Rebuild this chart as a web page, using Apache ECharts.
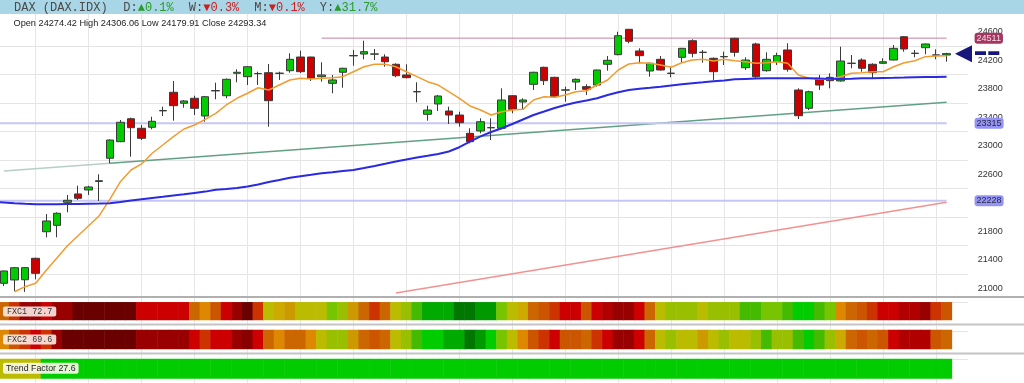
<!DOCTYPE html>
<html><head><meta charset="utf-8">
<script src="https://cdn.jsdelivr.net/npm/echarts@6/dist/echarts.min.js"></script>
<style>html,body{margin:0;padding:0;background:#fff}#c{width:1024px;height:383px}</style>
</head><body><div id="c"></div>
<script>
// ---------- DATA ----------
const open = [21070,21117,21120,21421,21794,21884,22207,22324,22380,22500,
22825,23058,23380,23246,23260,23490,23751,23597,23667,23418,
23770,23703,24018,23970,24012,24026,24016,24054,24246,24246,
23970,23877,24032,24262,24288,24286,24246,24144,23994,23757,
23442,23587,23488,23432,23175,23208,23252,23246,23703,23615,
23863,24102,23961,23781,23895,23830,23853,24144,24279,24635,
24331,24050,24214,24016,24242,24475,24310,24228,24249,24509,
24096,24429,24054,24180,24345,23783,23526,23947,23961,23910,
24156,24204,24144,24158,24204,24531,24296,24377,24272,24274.42];
const high = [21250,21300,21295,21430,22043,22067,22310,22440,22440,22600,
23090,23362,23395,23292,23408,23549,23910,23643,23703,23700,
23886,23945,24074,24120,24040,24148,24040,24298,24335,24250,
24172,23994,24095,24345,24475,24359,24284,24158,24144,23891,
23563,23713,23549,23479,23246,23386,23386,23807,23710,23667,
24040,24110,23970,23830,23945,23863,24070,24260,24601,24640,
24368,24170,24260,24110,24375,24495,24345,24240,24321,24515,
24242,24447,24312,24307,24439,23807,23773,23994,24018,24391,
24274,24228,24158,24228,24415,24540,24345,24435,24354,24306.06];
const low = [21032,20960,20950,21126,21716,21716,22067,22239,22310,22225,
22754,23050,22847,23081,23232,23418,23352,23535,23432,23338,
23653,23667,23891,23853,23853,23268,23924,24026,24020,23910,
23900,23737,23815,24124,24214,24204,24110,23962,23947,23611,
23352,23488,23306,23268,23035,23175,23081,23232,23456,23512,
23783,23853,23680,23619,23783,23713,23830,24054,24270,24439,
24158,23970,24054,23961,24166,24242,24166,23924,24134,24251,
24064,23947,24040,24134,24040,23376,23502,23783,23807,23900,
24088,24040,23947,24148,24200,24321,24242,24284,24214,24179.91];
const close = [21243,21289,21290,21210,21945,22053,22235,22263,22422,22510,
23081,23330,23254,23105,23344,23496,23563,23629,23526,23689,
23776,23933,24032,24110,24015,23633,24020,24214,24040,23947,
23994,23924,24088,24268,24321,24290,24180,23984,23956,23761,
23502,23699,23432,23324,23058,23338,23256,23643,23512,23643,
24032,23914,23689,23785,23933,23793,24064,24200,24545,24467,
24265,24158,24064,24020,24368,24298,24314,24040,24253,24312,
24204,23970,24214,24265,24074,23422,23759,23853,23914,24190,
24160,24088,24026,24180,24368,24359,24300,24429,24276,24293.34];
// fast moving average (orange), one value per candle
const maFast = [null,20952,21023,21070,21253,21425,21598,21738,21879,22019,
22249,22496,22660,22745,22895,23011,23128,23236,23292,23372,
23456,23573,23667,23737,23815,23783,23853,23924,23947,23938,
23947,23956,23970,24040,24110,24144,24144,24110,24040,23970,
23900,23853,23759,23667,23559,23502,23432,23479,23502,23512,
23643,23689,23681,23713,23759,23773,23853,23924,24064,24148,
24166,24158,24134,24102,24166,24204,24214,24190,24214,24194,
24180,24158,24166,24180,24158,23994,23947,23933,23933,23970,
24018,24026,24040,24040,24110,24166,24194,24251,24260,24265];
// slow moving average (blue); maSlowPrev = value just before the first candle
const maSlowPrev = 22212;
const maSlow = [22204,22194,22186,22179,22179,22180,22182,22183,22186,22189,
22193,22211,22231,22249,22267,22284,22302,22319,22338,22357,
22382,22394,22408,22429,22457,22492,22520,22552,22573,22593,
22615,22630,22646,22660,22688,22717,22747,22780,22808,22836,
22860,22885,22920,22980,23058,23132,23194,23246,23306,23369,
23432,23481,23531,23573,23608,23636,23667,23713,23751,23783,
23800,23814,23829,23846,23863,23877,23891,23907,23918,23933,
23939,23943,23947,23947,23947,23947,23947,23943,23940,23938,
23940,23947,23949,23952,23954,23957,23961,23964,23967,23970];
// horizontal levels: value and first candle (-1 = chart edge)
const levelValues = [24511, 23315, 22228];
const levelStarts = [30, -1, -1];
// trend lines: [candle, value] anchor points
const greenTrend = [[10, 22754], [89, 23611]];
const greenTrendExt = [[0, 22645], [10, 22754]];
const redTrend = [[37, 20934], [89, 22208]];
// y-axis tick labels
const yTicks = [21000, 21400, 21800, 22200, 22600, 23000, 23400, 23800, 24200, 24600];
// indicator strips: level per candle (0 = strongest bearish ... 18 = strongest bullish)
const fxc1 = [7,5,2,2,4,2,2,0,0,0,
0,0,0,4,4,4,4,4,7,8,
6,4,2,0,5,11,10,9,11,11,
11,13,12,9,7,5,7,11,12,14,
16,16,16,18,18,17,17,13,11,10,
7,6,5,4,4,6,4,3,2,2,
4,7,11,12,12,12,11,12,12,12,
14,14,13,13,14,15,15,14,13,8,
7,6,5,4,4,3,3,2,5,6];
const fxc2 = [8,6,5,4,5,2,0,0,0,0,
0,0,0,2,2,2,2,2,4,5,
4,4,2,1,4,7,8,7,7,8,
11,12,12,9,7,6,7,11,12,14,
15,15,16,16,18,17,15,13,11,8,
6,5,4,6,6,7,5,4,2,2,
4,7,11,12,11,11,9,11,12,11,
11,12,14,12,12,14,15,14,12,10,
7,6,7,6,4,3,3,3,6,7];
const trendF = [11,11,11,11,15,15,15,15,15,15,
15,15,15,15,15,15,15,15,15,15,
15,15,15,15,15,15,15,15,15,15,
15,15,15,15,15,15,15,15,15,15,
15,15,15,15,15,15,15,15,15,15,
15,15,15,15,15,15,15,15,15,15,
15,15,15,15,15,15,15,15,15,15,
15,15,15,15,15,15,15,15,15,15,
15,15,15,15,15,15,15,15,15,15];
const stripNames = ['FXC1', 'FXC2', 'Trend Factor'];
const stripValues = [72.7, 69.6, 27.6];
const symbolName = 'DAX (DAX.IDX)';
const periodNames = ['D', 'W', 'M', 'Y'];
const periodChanges = [0.1, -0.3, -0.1, 31.7];

// ---------- STYLE / LAYOUT ----------
const palette = ['#6b0000','#880000','#990000','#b00000','#cc0000','#cc3300','#cc5500','#cc6600','#dd8800',
  '#cc9900','#ccaa00','#bbbb00','#99c000','#77c400','#44bb00','#00cc00','#00aa00','#009900','#007700'];
const SP = 10.592;            // candle spacing
const X0 = 3.9;               // first candle centre
const GL = X0 - SP;           // grid left (one padding slot)
const NC = 93;                // slots: 1 pad + 90 candles + 2 pad
const GW = (NC - 1) * SP;
const cats = Array.from({length: NC}, (_, k) => 'k' + k);
const bandCats = open.map((_, i) => 'b' + i);
const pxPer = 0.07125;        // px per point
const yMin = 19600, yMax = 24800;
const gTop = 31.8 - (yMax - 24600) * pxPer;
const gH = (yMax - yMin) * pxPer;

const chart = echarts.init(document.getElementById('c'), null, {renderer: 'canvas'});
const kData = open.map((o, i) => [i + 1, o, close[i], low[i], high[i]]);
const fastData = maFast.map((v, i) => v == null ? null : [i + 1, v]).filter(Boolean);
const slowData = [[0, maSlowPrev]].concat(maSlow.map((v, i) => [i + 1, v]));

const levelStyles = [
  {line: '#c9809f', bg: '#a5365f', fg: '#f6dbe6', w: 1},
  {line: '#c6c6f6', bg: '#9494f6', fg: '#2a2a40', w: 2},
  {line: '#c6c6f6', bg: '#9494f6', fg: '#2a2a40', w: 2}
];
const levelSeries = levelValues.map((v, j) => {
  const s0 = levelStarts[j] + 1;
  const first = j === 0
    ? {value: [s0, v], symbol: 'circle', symbolSize: 7, itemStyle: {color: '#e6aac4', borderColor: '#c87098', borderWidth: 1}}
    : {value: [s0, v], symbol: 'none'};
  return {
    type: 'line', xAxisIndex: 1, yAxisIndex: 1, silent: true, animation: false, z: 3,
    showSymbol: true, symbol: 'none',
    data: [first, {value: [90, v], symbol: 'none'}],
    lineStyle: {color: levelStyles[j].line, width: levelStyles[j].w},
    endLabel: {show: true, formatter: String(v), distance: 28, fontSize: 9, fontFamily: 'Liberation Sans',
      color: levelStyles[j].fg, backgroundColor: levelStyles[j].bg, borderRadius: 3, padding: [1, 2, 0, 2], lineHeight: 10}
  };
});
const trendSeries = (pts, color, marker) => ({
  type: 'line', xAxisIndex: 1, yAxisIndex: 1, silent: true, animation: false,
  showSymbol: true, symbol: 'none',
  data: pts.map((p, i) => (marker && i === 0)
    ? {value: [p[0] + 1, p[1]], symbol: 'circle', symbolSize: 7, itemStyle: {color: '#b9d9c6', borderColor: '#9cc4ae'}}
    : {value: [p[0] + 1, p[1]], symbol: 'none'}),
  lineStyle: {color: color, width: 1.5}
});
const heat = (gi, arr) => ({
  type: 'heatmap', xAxisIndex: gi, yAxisIndex: gi, silent: true, animation: false,
  data: arr.map((lv, i) => [i, 0, lv]), itemStyle: {borderWidth: 0}
});

const option = {
  animation: false,
  backgroundColor: '#ffffff',
  grid: [
    {left: GL, width: GW, top: 14, height: 369, outerBoundsMode: 'none'},
    {left: GL, width: GW, top: gTop, height: gH, outerBoundsMode: 'none'},
    {left: X0 - SP / 2, width: 90 * SP, top: 302.3, height: 17.7, outerBoundsMode: 'none'},
    {left: X0 - SP / 2, width: 90 * SP, top: 330, height: 19, outerBoundsMode: 'none'},
    {left: X0 - SP / 2, width: 90 * SP, top: 359, height: 19.5, outerBoundsMode: 'none'}
  ],
  xAxis: [
    {type: 'category', gridIndex: 0, data: cats, boundaryGap: false,
      axisLine: {show: false}, axisTick: {show: false}, axisLabel: {show: false},
      splitLine: {show: true, interval: (idx) => idx >= 1 && (idx - 1) % 5 === 3, lineStyle: {color: '#e6e6e6', width: 1}}},
    {type: 'category', gridIndex: 1, data: cats, boundaryGap: false, show: false},
    {type: 'category', gridIndex: 2, data: bandCats, show: false},
    {type: 'category', gridIndex: 3, data: bandCats, show: false},
    {type: 'category', gridIndex: 4, data: bandCats, show: false}
  ],
  yAxis: [
    {type: 'value', gridIndex: 0, show: false},
    {type: 'value', gridIndex: 1, position: 'right', min: yMin, max: yMax, interval: 400,
      axisLine: {show: false}, axisTick: {show: false},
      splitLine: {show: true, showMinLine: false, showMaxLine: false, lineStyle: {color: '#e4e4e4'}},
      axisLabel: {show: false}},
    {type: 'category', gridIndex: 2, data: [stripNames[0]], show: false},
    {type: 'category', gridIndex: 3, data: [stripNames[1]], show: false},
    {type: 'category', gridIndex: 4, data: [stripNames[2]], show: false}
  ],
  visualMap: {
    type: 'piecewise', show: false, dimension: 2, seriesIndex: [0, 1, 2],
    pieces: palette.map((c, i) => ({value: i, color: c}))
  },
  series: [
    heat(2, fxc1), heat(3, fxc2), heat(4, trendF),
    trendSeries(greenTrendExt, '#b6cfc4', false),
    trendSeries(greenTrend, '#62a084', true),
    trendSeries(redTrend, '#f39191', false),
    ...levelSeries,
    {type: 'candlestick', xAxisIndex: 1, yAxisIndex: 1, silent: true, animation: false, z: 4,
      data: kData, encode: {x: 0, y: [1, 2, 3, 4]}, barWidth: 8,
      itemStyle: {color: '#00cc00', color0: '#cc0000', borderColor: '#3a3a3a', borderColor0: '#3a3a3a', borderWidth: 1}},
    {type: 'line', xAxisIndex: 1, yAxisIndex: 1, silent: true, data: fastData, symbol: 'none', z: 5,
      lineStyle: {color: '#f29b2f', width: 1.5}},
    {type: 'line', xAxisIndex: 1, yAxisIndex: 1, silent: true, data: slowData, symbol: 'none', z: 5,
      lineStyle: {color: '#2a2ae2', width: 2}}
  ]
};
chart.setOption(option);

// ---------- overlays placed through the price scale ----------
const toY = (v) => chart.convertToPixel({xAxisIndex: 1, yAxisIndex: 1}, [90, v])[1];
const axisRightX = chart.convertToPixel({xAxisIndex: 1, yAxisIndex: 1}, [NC - 1, yMin])[0];
const lastY = toY(close[89]);
const CW = 7.28;
const hdr = [{t: symbolName, c: 0, col: '#4a4a4a'}];
let pos = symbolName.length + 2;
periodNames.forEach((p, i) => {
  const v = periodChanges[i];
  hdr.push({t: p + ':', c: pos, col: '#4a4a4a'});
  const s = (v >= 0 ? '▲' : '▼') + Math.abs(v).toFixed(1) + '%';
  hdr.push({t: s, c: pos + 2, col: v >= 0 ? '#2a9a2a' : '#cc2020'});
  pos += 2 + s.length + 2;
});
const g = [
  ...yTicks.map(t => ({type: 'text', z: 1, style: {text: String(t), x: axisRightX + 10, y: toY(t), fill: '#333',
    font: '9px "Liberation Sans", Arial, sans-serif', verticalAlign: 'middle', align: 'left'}})),
  {type: 'rect', z: 100, shape: {x: 0, y: 0, width: 1024, height: 14}, style: {fill: '#a9d6e6'}},
  ...hdr.map(h => ({type: 'text', z: 101, style: {text: h.t, x: 14 + h.c * CW, y: 7.5, fill: h.col,
    font: '12px "Liberation Mono", "DejaVu Sans Mono", monospace', verticalAlign: 'middle', align: 'left'}})),
  {type: 'text', z: 101, style: {text: 'Open ' + open[89] + ' High ' + high[89] + ' Low ' + low[89] + ' Close ' + close[89],
    x: 13.5, y: 23.5, fill: '#222', font: '9.2px "Liberation Sans", Arial, sans-serif', verticalAlign: 'middle'}},
  {type: 'line', z: 50, shape: {x1: 0, y1: 297, x2: 1024, y2: 297}, style: {stroke: '#b0b0b0', lineWidth: 2}},
  {type: 'line', z: 50, shape: {x1: 0, y1: 324.6, x2: 1024, y2: 324.6}, style: {stroke: '#c4c4c4', lineWidth: 2}},
  {type: 'line', z: 50, shape: {x1: 0, y1: 353.4, x2: 1024, y2: 353.4}, style: {stroke: '#c4c4c4', lineWidth: 2}},
  {type: 'text', z: 60, style: {text: stripNames[0] + ' ' + stripValues[0], x: 3, y: 311.6, fill: '#333',
    font: '8.4px "Liberation Mono", monospace', verticalAlign: 'middle', backgroundColor: 'rgba(252,240,236,0.88)', padding: [1, 4, 1, 4], borderRadius: 2}},
  {type: 'text', z: 60, style: {text: stripNames[1] + ' ' + stripValues[1], x: 3, y: 339.4, fill: '#333',
    font: '8.4px "Liberation Mono", monospace', verticalAlign: 'middle', backgroundColor: 'rgba(252,240,236,0.88)', padding: [1, 4, 1, 4], borderRadius: 2}},
  {type: 'text', z: 60, style: {text: stripNames[2] + ' ' + stripValues[2], x: 3, y: 368.2, fill: '#222',
    font: '8.8px "Liberation Sans", Arial, sans-serif', verticalAlign: 'middle', backgroundColor: 'rgba(252,250,236,0.9)', padding: [1, 3, 1, 3], borderRadius: 2}},
  {type: 'polygon', z: 70, shape: {points: [[955, lastY], [972, lastY - 8.5], [972, lastY + 8.5]]}, style: {fill: '#16167c'}},
  {type: 'line', z: 70, shape: {x1: 975, y1: lastY - 0.5, x2: 1001, y2: lastY - 0.5}, style: {stroke: '#16167c', lineWidth: 3.6, lineDash: [11, 2.3]}}
];
chart.setOption({graphic: g});
</script>
</body></html>
